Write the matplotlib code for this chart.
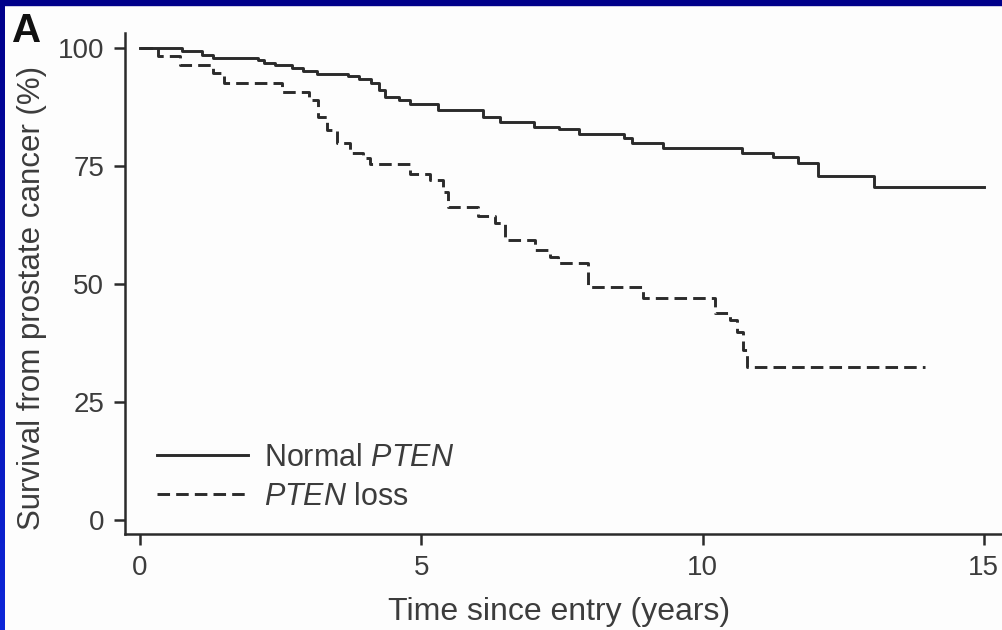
import numpy as np
import matplotlib
matplotlib.use("Agg")
import matplotlib.pyplot as plt

plt.rcParams['font.family'] = ['Liberation Sans', 'DejaVu Sans']
plt.rcParams['mathtext.fontset'] = 'custom'
plt.rcParams['mathtext.rm'] = 'Liberation Sans'
plt.rcParams['mathtext.it'] = 'Liberation Sans:italic'

# Kaplan-Meier steps (time in years, survival in %)
normal_time = [0, 0.75, 1.1, 1.3, 2.1, 2.2, 2.4, 2.7, 2.9, 3.15, 3.7, 3.9, 4.1,
               4.25, 4.35, 4.6, 4.8, 5.3, 6.1, 6.4, 7.0, 7.45, 7.8, 8.6, 8.75,
               9.3, 10.7, 11.25, 11.7, 12.05, 13.05, 15.0]
normal_surv = [100, 99.3, 98.6, 97.9, 97.4, 96.9, 96.4, 95.7, 95.2, 94.5, 94.1,
               93.4, 92.7, 91.2, 89.7, 89.0, 88.1, 86.9, 85.4, 84.3, 83.3, 82.8,
               81.8, 80.9, 79.9, 78.8, 77.7, 76.9, 75.6, 72.9, 70.6, 70.6]

loss_time = [0, 0.32, 0.71, 1.3, 1.5, 2.52, 3.0, 3.16, 3.32, 3.5, 3.73, 3.96,
             4.09, 4.8, 5.15, 5.38, 5.47, 6.0, 6.31, 6.49, 7.02, 7.29, 7.43,
             7.96, 8.94, 10.22, 10.49, 10.61, 10.72, 10.79, 13.95]
loss_surv = [100, 98.3, 96.5, 94.7, 92.6, 90.7, 88.9, 85.4, 82.6, 79.9, 77.8,
             76.7, 75.4, 73.3, 72.0, 69.5, 66.3, 64.4, 62.9, 59.3, 57.2, 55.7,
             54.4, 49.4, 47.1, 43.8, 42.4, 39.8, 36.0, 32.4, 32.4]

x_ticks = [0, 5, 10, 15]
y_ticks = [0, 25, 50, 75, 100]

ink = '#2b2b2b'
txt = '#3c3c3c'

fig = plt.figure(figsize=(10.03, 6.30), dpi=100, facecolor='#fdfdfd')
ax = fig.add_axes([125 / 1003, 1 - 534 / 630, 1 - 125 / 1003, (534 - 33) / 630])
ax.set_facecolor('#fdfdfd')

ax.step(normal_time, normal_surv, where='post', color=ink, lw=2.1,
        label=r'Normal $\it{PTEN}$')
ax.step(loss_time, loss_surv, where='post', color=ink, lw=2.1,
        dashes=(4.3, 2.1), label=r'$\it{PTEN}$ loss')

ax.set_xlim(-0.267, 15.34)
ax.set_ylim(-2.97, 103.2)
ax.set_xticks(x_ticks)
ax.set_yticks(y_ticks)

for s in ['top', 'right']:
    ax.spines[s].set_visible(False)
for s in ['left', 'bottom']:
    ax.spines[s].set_linewidth(1.8)
    ax.spines[s].set_color(ink)
ax.tick_params(length=8, width=1.8, color=ink, labelsize=20,
               labelcolor=txt, pad=7)

ax.set_xlabel('Time since entry (years)', fontsize=23, color=txt, labelpad=12.5)
ax.xaxis.set_label_coords(0.494, -0.125)
ax.set_ylabel('Survival from prostate cancer (%)', fontsize=22.5, color=txt)
ax.yaxis.set_label_coords(-0.089, 0.471)

ax.legend(loc='lower left', bbox_to_anchor=(0.036, 0.044), frameon=False,
          fontsize=22, labelcolor=txt, handlelength=3.0, handletextpad=0.5,
          labelspacing=0.3, borderpad=0, borderaxespad=0)

fig.text(12 / 1003, 1 - 42 / 630, 'A', fontsize=29, fontweight='bold',
         color='#111111')

# blue slide frame: navy band on top, gradient band on the left
fig.patches.append(plt.Rectangle((0, 1 - 5 / 630), 1, 5 / 630,
                                 transform=fig.transFigure, color='#00008a',
                                 zorder=10))
edge = fig.add_axes([0, 0, 5 / 1003, 1])
grad = np.linspace(0, 1, 256).reshape(-1, 1)
top_c = np.array([0.0, 0.0, 0.54])
bot_c = np.array([0.05, 0.15, 0.85])
edge.imshow(top_c + grad[..., None] * (bot_c - top_c), aspect='auto')
edge.axis('off')

fig.savefig('out.png', dpi=100, facecolor=fig.get_facecolor())
